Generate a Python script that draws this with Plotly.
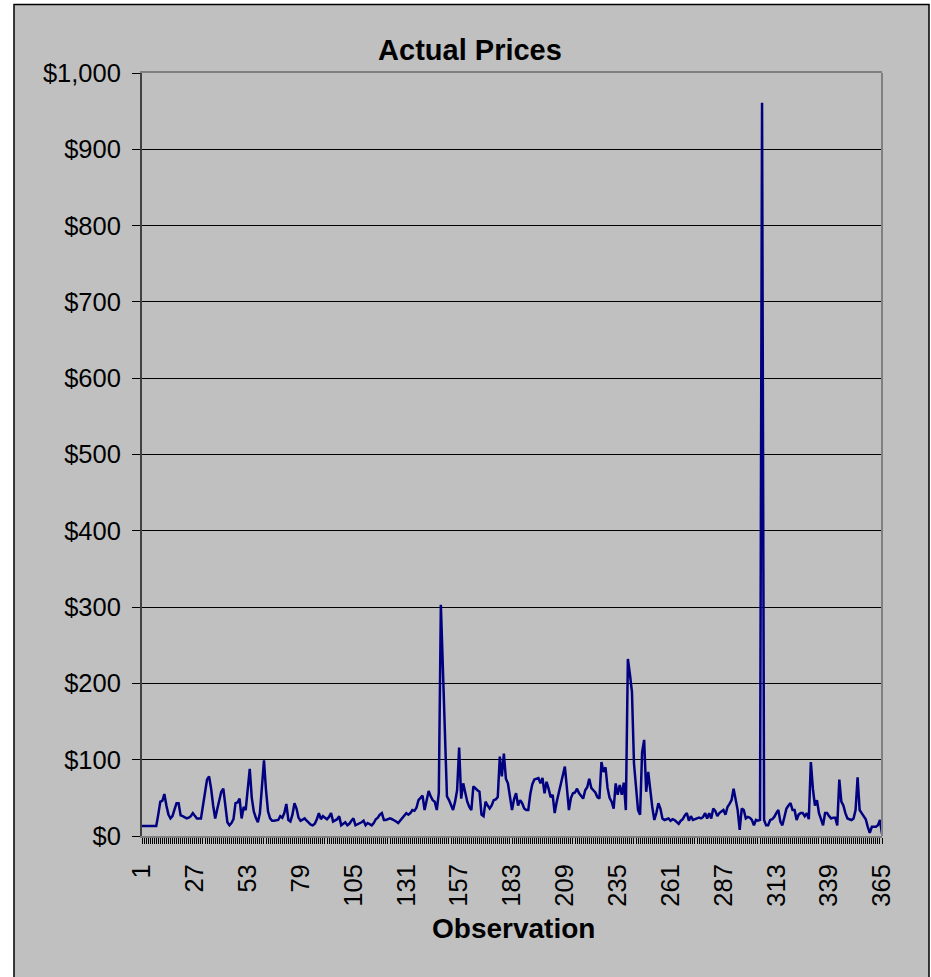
import plotly.graph_objects as go

# Daily observed prices, observations 1..365 (ten per row)
prices = [
    13, 13, 13, 13, 13, 13, 13, 13, 28, 45,
    46, 55, 40, 28, 23, 26, 35, 43, 43, 27,
    26, 25, 23, 24, 26, 30, 27, 23, 23, 23,
    40, 60, 74, 78, 62, 40, 23, 35, 48, 58,
    62, 35, 18, 14, 17, 22, 43, 44, 49, 23,
    38, 34, 60, 88, 50, 32, 24, 18, 30, 62,
    99, 60, 32, 23, 20, 20, 21, 21, 26, 24,
    30, 42, 21, 19, 28, 43, 36, 24, 20, 21,
    23, 20, 17, 15, 14, 16, 22, 30, 22, 26,
    24, 22, 25, 30, 19, 20, 22, 26, 14, 16,
    18, 14, 16, 20, 23, 14, 15, 16, 18, 20,
    14, 17, 16, 14, 17, 22, 24, 28, 30, 21,
    21, 22, 23, 22, 21, 19, 17, 20, 23, 27,
    30, 28, 30, 34, 33, 37, 47, 50, 53, 34,
    45, 59, 52, 47, 45, 34, 56, 303, 220, 130,
    52, 47, 40, 34, 45, 60, 116, 49, 69, 55,
    45, 38, 34, 65, 62, 60, 58, 28, 26, 45,
    40, 36, 40, 47, 48, 51, 104, 78, 108, 75,
    69, 50, 34, 48, 56, 40, 47, 43, 36, 34,
    34, 55, 68, 74, 75, 76, 69, 76, 56, 71,
    62, 51, 54, 30, 45, 56, 69, 80, 91, 63,
    34, 50, 56, 57, 62, 56, 53, 49, 60, 64,
    75, 63, 60, 57, 51, 49, 97, 84, 90, 63,
    50, 45, 36, 69, 54, 67, 54, 70, 34, 232,
    212, 189, 95, 60, 34, 28, 110, 126, 58, 84,
    56, 38, 21, 30, 43, 36, 23, 21, 22, 23,
    20, 22, 21, 18, 16, 20, 22, 27, 30, 20,
    26, 21, 22, 23, 24, 23, 25, 30, 23, 30,
    23, 36, 33, 26, 30, 32, 34, 28, 38, 42,
    47, 62, 45, 34, 8, 36, 34, 23, 25, 24,
    21, 14, 21, 20, 21, 961, 21, 14, 14, 21,
    22, 25, 30, 34, 19, 14, 25, 36, 40, 43,
    34, 34, 21, 28, 30, 30, 26, 30, 22, 97,
    62, 40, 47, 30, 22, 14, 30, 30, 26, 23,
    24, 24, 14, 74, 45, 40, 30, 23, 22, 21,
    23, 34, 77, 34, 30, 26, 22, 12, 4, 12,
    12, 12, 14, 21, 3,
]
observations = list(range(1, len(prices) + 1))

# Labelled category ticks and price ticks
x_tick_vals = list(range(1, 366, 26))
y_tick_vals = list(range(0, 1001, 100))

FONT = "Liberation Sans, Arial, sans-serif"
GRAY = "#C0C0C0"

W, H = 931, 977
L, R, T, B = 142, 882, 73, 836   # plot-area edges in pixels
pw, ph = R - L, B - T


def px_x(x):
    return (x - L) / pw


def px_y(y):
    return (B - y) / ph


fig = go.Figure()
fig.add_trace(go.Scatter(
    x=observations, y=prices, mode="lines",
    line=dict(color="#000080", width=2.5),
    showlegend=False, hoverinfo="x+y",
))

fig.update_layout(
    width=W, height=H, autosize=False,
    margin=dict(l=L, r=W - R, t=T, b=H - B, pad=0),
    paper_bgcolor="white", plot_bgcolor=GRAY,
    font=dict(family=FONT, color="black", size=25),
    title=dict(text="<b>Actual Prices</b>", font=dict(size=29, family=FONT),
               x=px_x(470), xref="paper", xanchor="center",
               y=1 - 50 / H, yref="container", yanchor="middle"),
    xaxis=dict(
        range=[1, 365], tickvals=x_tick_vals,
        ticktext=[str(v) for v in x_tick_vals],
        tickangle=-90, ticks="outside", ticklen=6, tickcolor="black",
        tickwidth=1, tickfont=dict(size=25.5, family=FONT),
        ticklabelstandoff=10,
        minor=dict(dtick=1, tick0=1, ticks="outside", ticklen=6,
                   tickcolor="black", tickwidth=1),
        showgrid=False, zeroline=False,
        showline=True, linecolor="#808080", linewidth=2, mirror=True,
    ),
    yaxis=dict(
        range=[0, 1000], tickvals=y_tick_vals, tickformat="$,.0f",
        ticks="outside", ticklen=8, tickcolor="black", tickwidth=1,
        tickfont=dict(size=25.5, family=FONT), ticklabelstandoff=6,
        showgrid=True, gridcolor="black", gridwidth=1, zeroline=False,
        showline=True, linecolor="#404040", linewidth=2,
    ),
    shapes=[
        # chart-area panel behind everything
        dict(type="rect", xref="paper", yref="paper", layer="below",
             x0=px_x(14), x1=px_x(929), y0=px_y(1000), y1=px_y(4.5),
             fillcolor=GRAY, line=dict(color="black", width=1.5)),
        # right edge of the plot area
        dict(type="line", xref="paper", yref="paper",
             x0=1, x1=1, y0=0, y1=1,
             line=dict(color="#808080", width=2)),
    ],
    annotations=[
        dict(text="<b>Observation</b>", xref="paper", yref="paper",
             x=px_x(513), y=px_y(928), xanchor="center", yanchor="middle",
             showarrow=False, font=dict(size=28, family=FONT)),
    ],
)

fig.write_html("out.html", config={"displayModeBar": False})
